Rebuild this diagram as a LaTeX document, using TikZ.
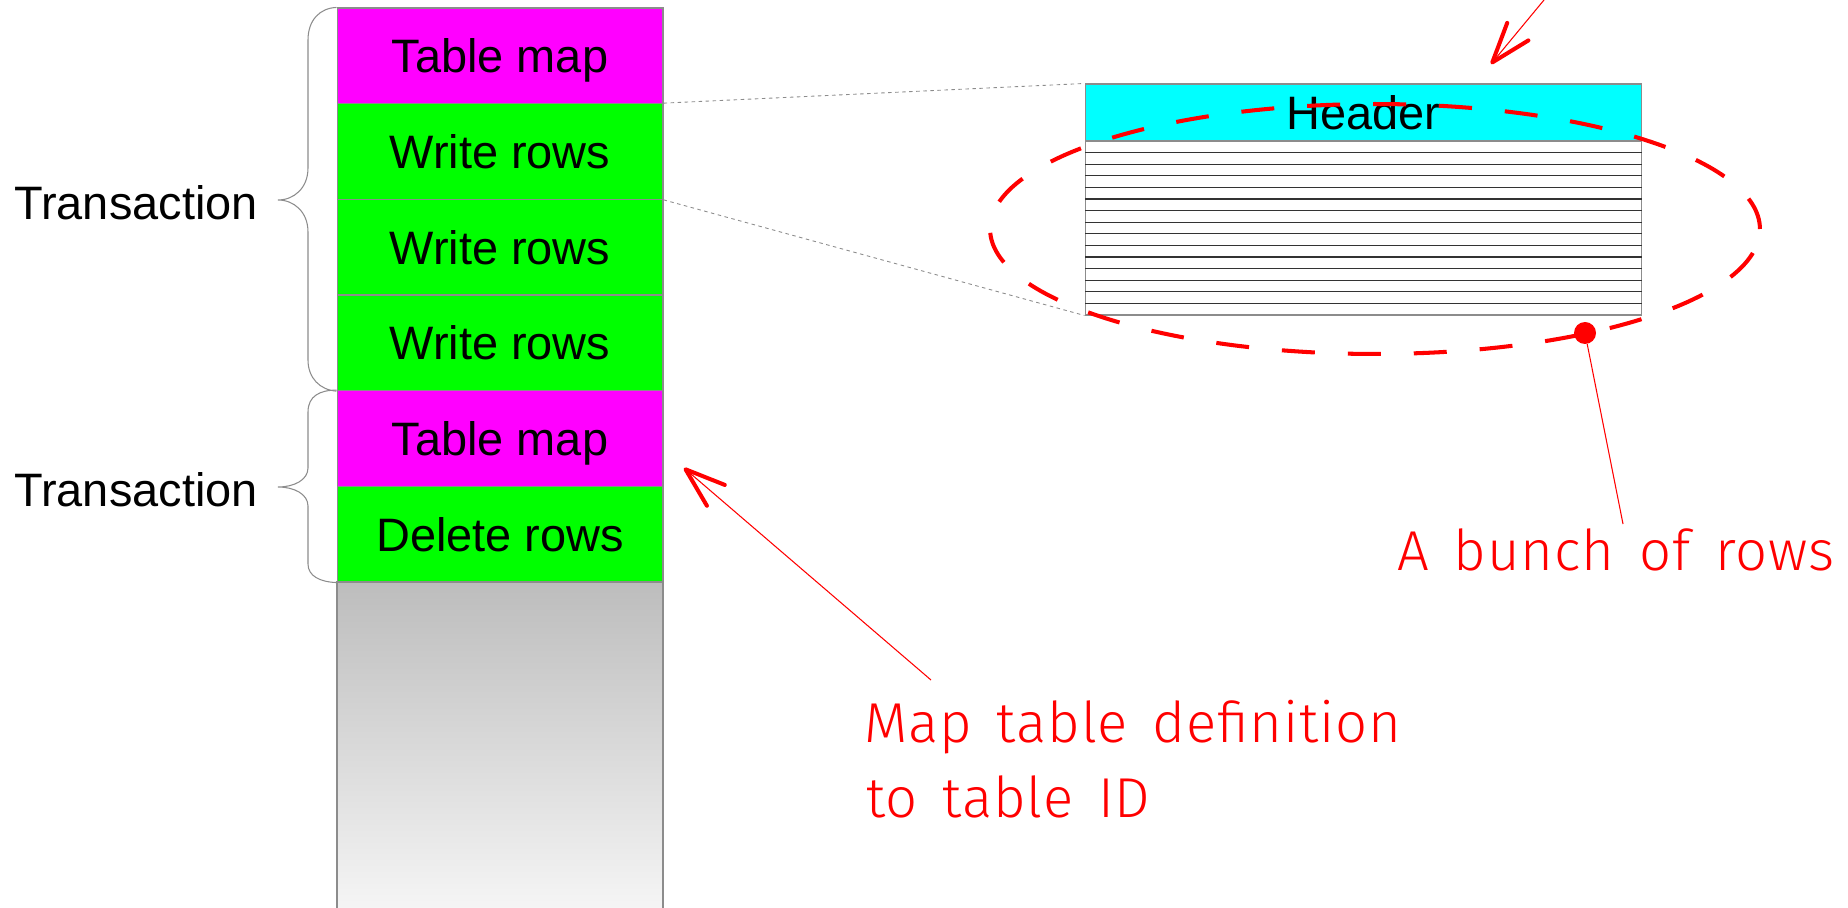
\documentclass[tikz,border=0pt]{standalone}
\usepackage{fontspec}
\setmainfont{Liberation Sans}
\newfontfamily\handfont{Fira Sans Light}[LetterSpace=1.5, WordSpace=1.5]
\usetikzlibrary{arrows.meta}
\definecolor{edgegray}{HTML}{8C8C8C}
\definecolor{mapcol}{HTML}{FF00FF}
\definecolor{rowcol}{HTML}{00FF00}
\definecolor{headcol}{HTML}{00FFFF}
\tikzset{
  captext/.style={font=\fontsize{26.7}{30}\selectfont, text height=0.673cm, text depth=0pt},
  block/.style={draw=edgegray, line width=0.6pt, minimum width=6.52cm, minimum height=1.913cm,
    inner sep=0pt, captext},
  brace/.style={draw=edgegray, line width=0.6pt},
  guide/.style={draw=edgegray, line width=0.5pt, dash pattern=on 2pt off 2pt},
  note/.style={text=red, font=\handfont\fontsize{32}{36}\selectfont, inner sep=0pt},
  handtip/.tip={Straight Barb[length=0.8cm, width=0.55cm, line width=2.3pt, round]},
  pointer/.style={draw=red, line width=0.6pt},
  lbl/.style={font=\fontsize{26.7}{30}\selectfont, inner sep=0pt}
}
\begin{document}
\begin{tikzpicture}[x=0.02cm, y=-0.02cm]
\useasboundingbox (0,0) rectangle (1848,908);

% log stack
\node[block, fill=mapcol]  (tm1) at (500,55.8)  {Table map};
\node[block, fill=rowcol]  (wr1) at (500,151.5) {Write rows};
\node[block, fill=rowcol]  (wr2) at (500,247.2) {Write rows};
\node[block, fill=rowcol]  (wr3) at (500,342.8) {Write rows};
\node[block, fill=mapcol]  (tm2) at (500,438.5) {Table map};
\node[block, fill=rowcol]  (del) at (500,534.2) {Delete rows};

% unused tail of the log
\shade[top color=black!26, bottom color=black!4] (337,582) rectangle (663,908);
\draw[edgegray, line width=0.6pt] (337,908) -- (337,582) -- (663,582) -- (663,908);

% transaction braces
\draw[brace] (tm1.north west) .. controls (320,8) and (308,20) .. (308,40)
  -- (308,168) .. controls (308,188) and (294,200) .. (278,200)
  .. controls (294,200) and (308,212) .. (308,232)
  -- (308,360) .. controls (308,378) and (320,390) .. (wr3.south west);
\draw[brace] (tm2.north west) .. controls (320,390) and (308,396) .. (308,412)
  -- (308,468) .. controls (308,480) and (294,487) .. (278,487)
  .. controls (294,487) and (308,494) .. (308,506)
  -- (308,564) .. controls (308,576) and (320,582) .. (del.south west);
\node[lbl, anchor=east] (tr1) at (258,203) {Transaction};
\node[lbl, anchor=east] (tr2) at (258,490) {Transaction};

% event detail
\node[draw=edgegray, line width=0.6pt, fill=headcol, minimum width=11.14cm, minimum height=1.14cm,
  inner sep=0pt, captext] (header) at (1363.5,112.5) {Header};
\node[draw=edgegray, line width=0.6pt, minimum width=11.14cm, minimum height=3.48cm, inner sep=0pt]
  (rows) at (1363.5,228) {};
\foreach \k in {1,...,14} {
  \draw[black!80, line width=0.7pt] (1085,141+\k*11.6) -- (1642,141+\k*11.6);
}
\draw[guide] (wr1.north east) -- (header.north west);
\draw[guide] (wr1.south east) -- (rows.south west);

% annotations
\draw[red, line width=2.3pt, dash pattern=on 0.66cm off 0.66cm] (1375,229) ellipse [x radius=7.7cm, y radius=2.5cm];
\node[circle, fill=red, inner sep=0pt, minimum size=0.44cm] (dot) at (1585,333) {};
\node[note, anchor=base west] (bunch) at (1397,570) {A bunch of rows};
\coordinate (bunchend) at (1623,524);
\draw[pointer] (dot) -- (bunchend);

\node[note, anchor=base west] (mapnote) at (864,742) {Map table definition};
\node[note, anchor=base west] (mapnote2) at (866,817) {to table ID};
\coordinate (mapfrom) at (931,680);
\coordinate (maptip) at (684,468);
\draw[pointer, -{handtip}] (mapfrom) -- (maptip);

\coordinate (topfrom) at (1544,0);
\coordinate (toptip) at (1491,64);
\draw[pointer, -{handtip}] (topfrom) -- (toptip);
\end{tikzpicture}
\end{document}
